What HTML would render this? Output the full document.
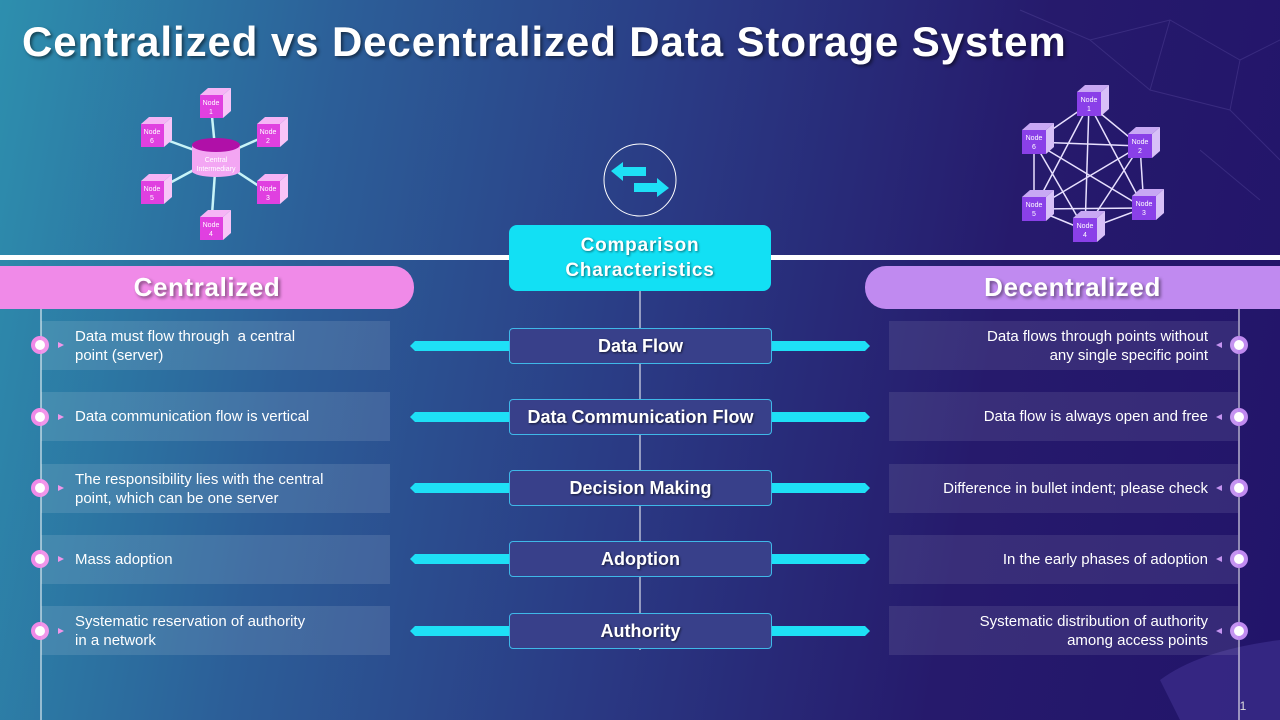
<!DOCTYPE html>
<html><head><meta charset="utf-8"><style>
*{margin:0;padding:0;box-sizing:border-box}
body{width:1280px;height:720px;overflow:hidden;position:relative;font-family:"Liberation Sans",sans-serif;
background:linear-gradient(100deg,#2d8fae 0%,#2c5e98 25%,#2a3a84 50%,#261a6c 75%,#22146a 100%);}
.abs{position:absolute}
.title{left:22px;top:18px;font-size:42px;font-weight:bold;color:#fff;letter-spacing:0.9px;text-shadow:2px 2px 3px rgba(0,0,0,.5);white-space:nowrap}
.pill{top:266px;height:43px;font-size:26px;font-weight:bold;color:#fff;letter-spacing:0.6px;display:flex;align-items:center;justify-content:center;text-shadow:2px 2px 3px rgba(0,0,0,.45)}
.lbox{left:41px;width:349px;height:49px;background:rgba(255,255,255,.11);color:#fff;font-size:15px;line-height:19px;padding-left:34px;display:flex;align-items:center}
.rbox{left:889px;width:349px;height:49px;background:rgba(255,255,255,.09);color:#fff;font-size:15px;line-height:19px;padding-right:30px;display:flex;align-items:center;justify-content:flex-end;text-align:right}
.cbox{left:509px;width:263px;height:36px;background:#38408a;border:1.5px solid #3fb8e8;border-radius:4px;color:#fff;font-weight:bold;font-size:18px;display:flex;align-items:center;justify-content:center;text-shadow:1px 1px 2px rgba(0,0,0,.6)}
</style></head><body>
<svg class="abs" style="left:0;top:0" width="1280" height="720">
<g stroke="#6a5ab0" stroke-width="1" opacity=".3" fill="none">
<path d="M1020 10 L1090 40 L1170 20 L1240 60 L1280 40 M1090 40 L1150 90 L1230 110 L1280 160 M1170 20 L1150 90 M1240 60 L1230 110 M1200 150 L1260 200"/>
</g>
<path d="M1160 680 Q1200 650 1280 640 L1280 720 L1180 720 Z" fill="#3a2a88" opacity=".8"/>
<rect x="0" y="255" width="1280" height="5" fill="#fff"/>
<line x1="640" y1="290" x2="640" y2="650" stroke="#fff" stroke-width="1"/>
<line x1="41" y1="308" x2="41" y2="720" stroke="#fff" stroke-width="1"/>
<line x1="1239" y1="308" x2="1239" y2="720" stroke="#fff" stroke-width="1"/>
<g fill="#1ee0f6">
<path d="M410 346 L415 341 L509 341 L509 351 L415 351 Z"/><path d="M772 341 L865 341 L870 346 L865 351 L772 351 Z"/>
<path d="M410 417 L415 412 L509 412 L509 422 L415 422 Z"/><path d="M772 412 L865 412 L870 417 L865 422 L772 422 Z"/>
<path d="M410 488 L415 483 L509 483 L509 493 L415 493 Z"/><path d="M772 483 L865 483 L870 488 L865 493 L772 493 Z"/>
<path d="M410 559 L415 554 L509 554 L509 564 L415 564 Z"/><path d="M772 554 L865 554 L870 559 L865 564 L772 564 Z"/>
<path d="M410 631 L415 626 L509 626 L509 636 L415 636 Z"/><path d="M772 626 L865 626 L870 631 L865 636 L772 636 Z"/>
</g>
<g fill="#fff" stroke-width="4">
<g stroke="#f08ae8"><circle cx="40" cy="345" r="7"/><circle cx="40" cy="417" r="7"/><circle cx="40" cy="488" r="7"/><circle cx="40" cy="559" r="7"/><circle cx="40" cy="631" r="7"/></g>
<g stroke="#c08af0"><circle cx="1239" cy="345" r="7"/><circle cx="1239" cy="417" r="7"/><circle cx="1239" cy="488" r="7"/><circle cx="1239" cy="559" r="7"/><circle cx="1239" cy="631" r="7"/></g>
</g>
<g fill="#f08ae8"><path d="M58 342 L64 345 L58 348Z"/><path d="M58 414 L64 417 L58 420Z"/><path d="M58 485 L64 488 L58 491Z"/><path d="M58 556 L64 559 L58 562Z"/><path d="M58 628 L64 631 L58 634Z"/></g>
<g fill="#c08af0"><path d="M1222 342 L1216 345 L1222 348Z"/><path d="M1222 414 L1216 417 L1222 420Z"/><path d="M1222 485 L1216 488 L1222 491Z"/><path d="M1222 556 L1216 559 L1222 562Z"/><path d="M1222 628 L1216 631 L1222 634Z"/></g>
<circle cx="640" cy="180" r="36" fill="none" stroke="#fff" stroke-width="1"/>
<path d="M611 171 L623 162 L623 167 L646 167 L646 176 L623 176 L623 181 Z" fill="#1ee0f6"/>
<path d="M669 188 L657 197 L657 192 L634 192 L634 183 L657 183 L657 178 Z" fill="#1ee0f6"/>
<g stroke="#c8f4f8" stroke-width="2.5">
<line x1="216" y1="158" x2="211" y2="106"/><line x1="216" y1="158" x2="268" y2="135"/><line x1="216" y1="158" x2="268" y2="192"/>
<line x1="216" y1="158" x2="211" y2="229"/><line x1="216" y1="158" x2="153" y2="192"/><line x1="216" y1="158" x2="153" y2="135"/>
</g>
<rect x="192" y="145" width="48" height="26" fill="#f3a6f3"/>
<ellipse cx="216" cy="171" rx="24" ry="6" fill="#f3a6f3"/>
<ellipse cx="216" cy="145" rx="24" ry="7" fill="#b010a8"/>
<text x="216" y="162" font-size="7" fill="#fff" text-anchor="middle">Central</text>
<text x="216" y="171" font-size="7" fill="#fff" text-anchor="middle">Intermediary</text>
<g stroke="#e8e0ff" stroke-width="1.5">
<line x1="1089" y1="104" x2="1140" y2="146"/><line x1="1089" y1="104" x2="1144" y2="208"/><line x1="1089" y1="104" x2="1085" y2="230"/><line x1="1089" y1="104" x2="1034" y2="209"/><line x1="1089" y1="104" x2="1034" y2="142"/>
<line x1="1140" y1="146" x2="1144" y2="208"/><line x1="1140" y1="146" x2="1085" y2="230"/><line x1="1140" y1="146" x2="1034" y2="209"/><line x1="1140" y1="146" x2="1034" y2="142"/>
<line x1="1144" y1="208" x2="1085" y2="230"/><line x1="1144" y1="208" x2="1034" y2="209"/><line x1="1144" y1="208" x2="1034" y2="142"/>
<line x1="1085" y1="230" x2="1034" y2="209"/><line x1="1085" y1="230" x2="1034" y2="142"/><line x1="1034" y1="209" x2="1034" y2="142"/>
</g>
<g font-size="7" fill="#fff" text-anchor="middle">
<g transform="translate(200,95)"><path d="M0 0 L8 -7 L31 -7 L23 0Z" fill="#f6b4f6"/><path d="M23 0 L31 -7 L31 16 L23 23Z" fill="#f8c4f8"/><rect width="23" height="23" fill="#e040e0"/><text x="11" y="10">Node</text><text x="11" y="19">1</text></g>
<g transform="translate(257,124)"><path d="M0 0 L8 -7 L31 -7 L23 0Z" fill="#f6b4f6"/><path d="M23 0 L31 -7 L31 16 L23 23Z" fill="#f8c4f8"/><rect width="23" height="23" fill="#e040e0"/><text x="11" y="10">Node</text><text x="11" y="19">2</text></g>
<g transform="translate(257,181)"><path d="M0 0 L8 -7 L31 -7 L23 0Z" fill="#f6b4f6"/><path d="M23 0 L31 -7 L31 16 L23 23Z" fill="#f8c4f8"/><rect width="23" height="23" fill="#e040e0"/><text x="11" y="10">Node</text><text x="11" y="19">3</text></g>
<g transform="translate(200,217)"><path d="M0 0 L8 -7 L31 -7 L23 0Z" fill="#f6b4f6"/><path d="M23 0 L31 -7 L31 16 L23 23Z" fill="#f8c4f8"/><rect width="23" height="23" fill="#e040e0"/><text x="11" y="10">Node</text><text x="11" y="19">4</text></g>
<g transform="translate(141,181)"><path d="M0 0 L8 -7 L31 -7 L23 0Z" fill="#f6b4f6"/><path d="M23 0 L31 -7 L31 16 L23 23Z" fill="#f8c4f8"/><rect width="23" height="23" fill="#e040e0"/><text x="11" y="10">Node</text><text x="11" y="19">5</text></g>
<g transform="translate(141,124)"><path d="M0 0 L8 -7 L31 -7 L23 0Z" fill="#f6b4f6"/><path d="M23 0 L31 -7 L31 16 L23 23Z" fill="#f8c4f8"/><rect width="23" height="23" fill="#e040e0"/><text x="11" y="10">Node</text><text x="11" y="19">6</text></g>
</g>
<g font-size="7" fill="#fff" text-anchor="middle">
<g transform="translate(1077,92)"><path d="M0 0 L8 -7 L32 -7 L24 0Z" fill="#c8a8f4"/><path d="M24 0 L32 -7 L32 17 L24 24Z" fill="#d8c0f8"/><rect width="24" height="24" fill="#8a40e8"/><text x="12" y="10">Node</text><text x="12" y="19">1</text></g>
<g transform="translate(1128,134)"><path d="M0 0 L8 -7 L32 -7 L24 0Z" fill="#c8a8f4"/><path d="M24 0 L32 -7 L32 17 L24 24Z" fill="#d8c0f8"/><rect width="24" height="24" fill="#8a40e8"/><text x="12" y="10">Node</text><text x="12" y="19">2</text></g>
<g transform="translate(1132,196)"><path d="M0 0 L8 -7 L32 -7 L24 0Z" fill="#c8a8f4"/><path d="M24 0 L32 -7 L32 17 L24 24Z" fill="#d8c0f8"/><rect width="24" height="24" fill="#8a40e8"/><text x="12" y="10">Node</text><text x="12" y="19">3</text></g>
<g transform="translate(1073,218)"><path d="M0 0 L8 -7 L32 -7 L24 0Z" fill="#c8a8f4"/><path d="M24 0 L32 -7 L32 17 L24 24Z" fill="#d8c0f8"/><rect width="24" height="24" fill="#8a40e8"/><text x="12" y="10">Node</text><text x="12" y="19">4</text></g>
<g transform="translate(1022,197)"><path d="M0 0 L8 -7 L32 -7 L24 0Z" fill="#c8a8f4"/><path d="M24 0 L32 -7 L32 17 L24 24Z" fill="#d8c0f8"/><rect width="24" height="24" fill="#8a40e8"/><text x="12" y="10">Node</text><text x="12" y="19">5</text></g>
<g transform="translate(1022,130)"><path d="M0 0 L8 -7 L32 -7 L24 0Z" fill="#c8a8f4"/><path d="M24 0 L32 -7 L32 17 L24 24Z" fill="#d8c0f8"/><rect width="24" height="24" fill="#8a40e8"/><text x="12" y="10">Node</text><text x="12" y="19">6</text></g>
</g>
<text x="1243" y="710" font-size="12" fill="#ddd" text-anchor="middle">1</text>
</svg>

<div class="abs title">Centralized vs Decentralized Data Storage System</div>
<div class="abs" style="left:509px;top:225px;width:262px;height:66px;background:#12e0f4;border-radius:8px;color:#fff;font-weight:bold;font-size:19px;letter-spacing:0.8px;line-height:25px;text-align:center;padding-top:8px;text-shadow:1px 1px 2px rgba(0,0,0,.5)">Comparison<br>Characteristics</div>
<div class="abs pill" style="left:0;width:414px;background:#f08ae8;border-radius:0 21px 21px 0">Centralized</div>
<div class="abs pill" style="left:865px;width:415px;background:#c08af0;border-radius:21px 0 0 21px">Decentralized</div>

<div class="abs lbox" style="top:321px">Data must flow through&nbsp; a central<br>point (server)</div>
<div class="abs lbox" style="top:392px">Data communication flow is vertical</div>
<div class="abs lbox" style="top:464px">The responsibility lies with the central<br>point, which can be one server</div>
<div class="abs lbox" style="top:535px">Mass adoption</div>
<div class="abs lbox" style="top:606px">Systematic reservation of authority<br>in a network</div>

<div class="abs cbox" style="top:328px">Data Flow</div>
<div class="abs cbox" style="top:399px">Data Communication Flow</div>
<div class="abs cbox" style="top:470px">Decision Making</div>
<div class="abs cbox" style="top:541px">Adoption</div>
<div class="abs cbox" style="top:613px">Authority</div>

<div class="abs rbox" style="top:321px">Data flows through points without<br>any single specific point</div>
<div class="abs rbox" style="top:392px">Data flow is always open and free</div>
<div class="abs rbox" style="top:464px">Difference in bullet indent; please check</div>
<div class="abs rbox" style="top:535px">In the early phases of adoption</div>
<div class="abs rbox" style="top:606px">Systematic distribution of authority<br>among access points</div>
</body></html>
